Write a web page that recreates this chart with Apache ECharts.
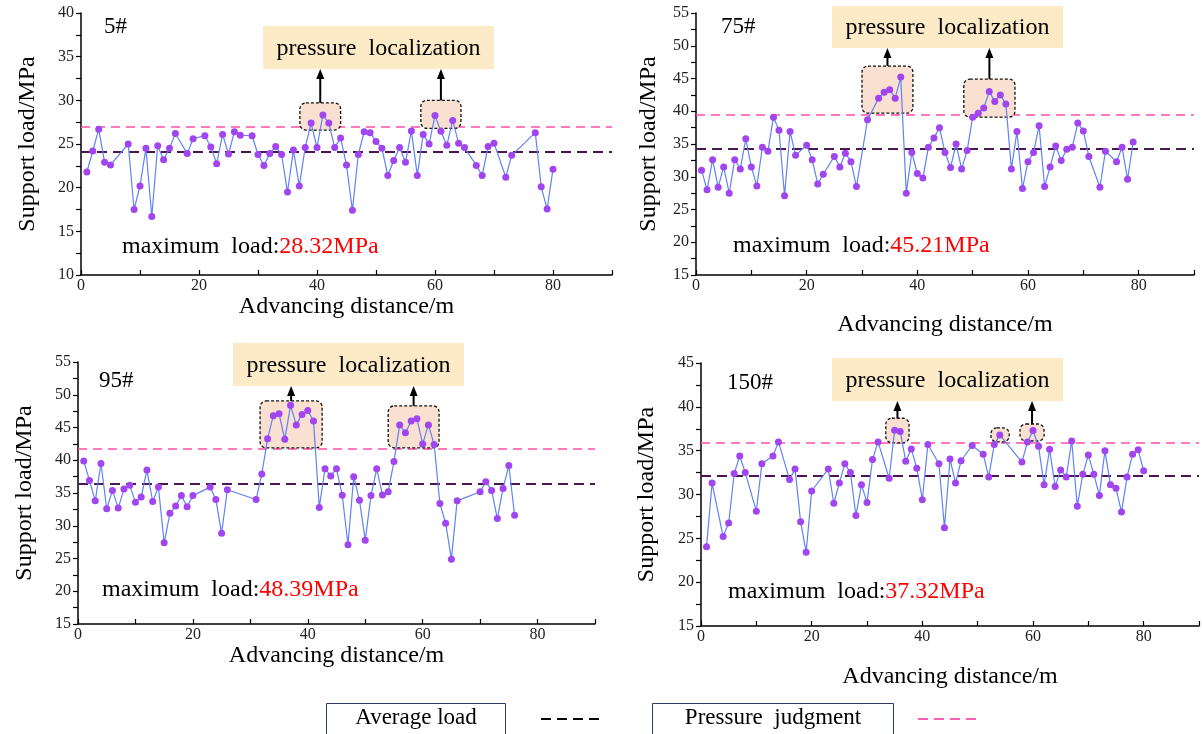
<!DOCTYPE html>
<html><head><meta charset="utf-8">
<script src="https://cdn.jsdelivr.net/npm/echarts@6/dist/echarts.min.js"></script>
<style>html,body{margin:0;padding:0;background:#fff}#c{width:1202px;height:734px}</style>
</head><body><div id="c"></div>
<script>
// ---------- data ----------
const panelNames = ['5#', '75#', '95#', '150#'];
const maxLoadText = ['28.32MPa', '45.21MPa', '48.39MPa', '37.32MPa'];
const yMin = [10, 15, 15, 15];
const yMax = [40, 55, 55, 45];
const avgLoad = [24.08, 34.24, 36.37, 32.1];
const judgeLoad = [26.95, 39.43, 41.8, 35.9];

const dist5 = [1,2,3,4,5,8,9,10,11,12,13,14,15,16,18,19,21,22,23,24,25,26,27,29,30,31,32,33,34,35,36,37,38,39,40,41,42,43,44,45,46,47,48,49,50,51,52,53,54,55,56,57,58,59,60,61,62,63,64,65,67,68,69,70,72,73,77,78,79,80];
const load5 = [21.8,24.2,26.7,22.9,22.6,25.0,17.5,20.2,24.5,16.7,24.8,23.2,24.5,26.2,23.9,25.6,25.95,24.65,22.75,26.1,23.85,26.4,26.0,25.95,23.8,22.55,23.9,24.7,23.8,19.5,24.3,20.2,24.6,27.4,24.6,28.32,27.4,24.6,25.7,22.6,17.4,23.8,26.4,26.3,25.3,24.5,21.4,23.1,24.6,22.9,26.5,21.4,26.1,25.0,28.25,26.45,24.85,27.7,25.1,24.6,22.55,21.4,24.7,25.1,21.2,23.7,26.3,20.1,17.55,22.1];

const dist75 = [1,2,3,4,5,6,7,8,9,10,11,12,13,14,15,16,17,18,20,21,22,23,25,26,27,28,29,31,33,34,35,36,37,38,39,40,41,42,43,44,45,46,47,48,49,50,51,52,53,54,55,56,57,58,59,60,61,62,63,64,65,66,67,68,69,70,71,73,74,76,77,78,79];
const load75 = [31.0,28.0,32.6,28.4,31.5,27.5,32.6,31.2,35.8,31.5,28.6,34.5,33.9,39.1,37.1,27.1,36.9,33.3,34.8,32.6,28.9,30.4,33.1,31.5,33.6,32.3,28.5,38.7,42.0,42.9,43.3,42.0,45.21,27.5,33.7,30.5,29.8,34.5,35.9,37.5,33.7,31.4,35.0,31.2,34.0,39.1,39.7,40.5,43.0,41.5,42.5,41.1,31.2,36.9,28.2,32.3,33.7,37.8,28.5,31.5,34.7,32.5,34.2,34.5,38.2,37.0,33.1,28.4,33.9,32.3,34.5,29.6,35.3];

const dist95 = [1,2,3,4,5,6,7,8,9,10,11,12,13,14,15,16,17,18,19,20,23,24,25,26,31,32,33,34,35,36,37,38,39,40,41,42,43,44,45,46,47,48,49,50,51,52,53,54,55,56,57,58,59,60,61,62,63,64,65,66,70,71,72,73,74,75,76];
const load95 = [39.9,36.9,33.8,39.5,32.6,35.4,32.7,35.6,36.2,33.6,34.4,38.5,33.7,35.9,27.4,31.9,33.0,34.6,32.9,34.6,35.9,34.0,28.85,35.5,34.0,37.9,43.3,46.8,47.1,43.2,48.39,45.4,47.0,47.6,46.0,32.8,38.7,37.6,38.7,34.65,27.1,37.5,33.9,27.8,34.6,38.7,34.7,35.2,39.8,45.4,44.2,46.0,46.35,42.5,45.4,42.4,33.4,30.4,24.9,33.8,35.2,36.7,35.4,31.1,35.7,39.2,31.6];

const dist150 = [1,2,4,5,6,7,8,10,11,13,14,16,17,18,19,20,23,24,25,26,27,28,29,30,31,32,34,35,36,37,38,39,40,41,43,44,45,46,47,49,51,52,53,54,58,59,60,61,62,63,64,65,66,67,68,69,70,71,72,73,74,75,76,77,78,79,80];
const load150 = [24.05,31.3,25.2,26.75,32.4,34.4,32.5,28.1,33.5,34.4,36.0,31.7,32.9,26.9,23.4,30.4,32.9,29.0,31.3,33.5,32.5,27.6,31.1,29.1,34.0,36.0,31.85,37.32,37.2,33.8,35.2,33.0,29.4,35.7,33.5,26.2,34.05,31.3,33.85,35.6,34.6,32.0,35.7,36.8,33.7,36.0,37.3,35.5,31.1,35.15,30.9,32.8,32.0,36.1,28.65,32.3,34.5,32.3,29.9,35.0,31.1,30.7,28.0,32.0,34.6,35.1,32.7];

// highlighted "pressure localization" zones, in data units: [x0, x1, y0, y1, hasArrow]
const zones5 = [[37.1, 44.0, 26.6, 29.7, 1], [57.6, 64.4, 26.8, 30.0, 1]];
const zones75 = [[30.0, 39.2, 39.7, 46.9, 1], [48.4, 57.65, 39.1, 44.9, 1]];
const zones95 = [[31.7, 42.5, 41.9, 49.05, 1], [54.0, 62.85, 41.9, 48.3, 1]];
const zones150 = [[33.4, 37.6, 35.9, 38.7, 1], [52.4, 55.7, 36.0, 37.6, 0], [57.65, 62.0, 36.1, 38.04, 1]];

// ---------- layout ----------
const FONT = '"Liberation Serif","Times New Roman",serif';
const dists = [dist5, dist75, dist95, dist150];
const loads = [load5, load75, load95, load150];
const zones = [zones5, zones75, zones95, zones150];
const grids = [
  {left: 81, top: 13, width: 531, height: 262},
  {left: 696, top: 13, width: 498, height: 262},
  {left: 78, top: 362, width: 517, height: 262},
  {left: 701, top: 363, width: 498, height: 263}
];
const xNameGap = [11, 38, 12, 39];
const yNameGap = [41, 35, 41, 42];
const labelBoxes = [[263, 26, 231, 43], [832, 6, 231, 42], [233, 343, 231, 43], [832, 358, 231, 43]];
const idPos = [[104, 27], [721, 27], [99, 381], [727, 383]];
const maxPos = [[122, 247], [733, 246], [102, 590], [728, 592]];

const chart = echarts.init(document.getElementById('c'));
const series = [];
grids.forEach((g, i) => {
  const pts = dists[i].map((d, j) => [d, loads[i][j]]);
  series.push({
    type: 'line', xAxisIndex: i, yAxisIndex: i, data: pts, symbol: 'none', silent: true,
    lineStyle: {opacity: 0}, z: 1,
    markLine: {
      silent: true, symbol: 'none', z: 1, label: {show: false},
      data: [
        {yAxis: avgLoad[i], lineStyle: {color: '#4a1752', type: [10, 6], width: 2}},
        {yAxis: judgeLoad[i], lineStyle: {color: '#ff4fa6', type: [9, 6], width: 1.6}}
      ]
    }
  });
  series.push({
    type: 'line', xAxisIndex: i, yAxisIndex: i, data: pts, z: 3,
    symbol: 'circle', symbolSize: 7, showAllSymbol: true,
    itemStyle: {color: '#a045f0'},
    lineStyle: {color: '#5f82f6', width: 1.2}
  });
});

const option = {
  animation: false,
  backgroundColor: '#fff',
  grid: grids,
  xAxis: grids.map((g, i) => ({
    gridIndex: i, type: 'value', min: 0, max: 90, interval: 10,
    axisLine: {show: true, onZero: false, lineStyle: {color: '#000', width: 1.5}},
    axisTick: {show: true, inside: true, length: 5, lineStyle: {color: '#000', width: 1.2}},
    axisLabel: {margin: 3, fontFamily: FONT, fontSize: 16, color: '#222',
      formatter: v => (v % 20 === 0 ? String(v) : '')},
    splitLine: {show: false},
    name: 'Advancing distance/m', nameLocation: 'middle', nameGap: xNameGap[i],
    nameTextStyle: {fontFamily: FONT, fontSize: 24, color: '#000'}
  })),
  yAxis: grids.map((g, i) => ({
    gridIndex: i, type: 'value', min: yMin[i], max: yMax[i], interval: 2.5,
    axisLine: {show: true, lineStyle: {color: '#000', width: 1.5}},
    axisTick: {show: true, length: 5, lineStyle: {color: '#000', width: 1.2}},
    axisLabel: {margin: 7, fontFamily: FONT, fontSize: 16, color: '#222',
      formatter: v => (v % 5 === 0 ? String(v) : '')},
    splitLine: {show: false},
    name: 'Support load/MPa', nameLocation: 'middle', nameGap: yNameGap[i],
    nameTextStyle: {fontFamily: FONT, fontSize: 24, color: '#000'}
  })),
  series: series
};
chart.setOption(option);

// ---------- annotations ----------
const gfx = [];
grids.forEach((g, i) => {
  const lb = labelBoxes[i];
  gfx.push({type: 'rect', z: 10, shape: {x: lb[0], y: lb[1], width: lb[2], height: lb[3]},
    style: {fill: '#fdebc8', stroke: null}});
  gfx.push({type: 'text', z: 11, x: lb[0] + lb[2] / 2, y: lb[1] + lb[3] / 2 + 1,
    style: {text: 'pressure  localization', font: '24px ' + FONT, fill: '#000',
      textAlign: 'center', textVerticalAlign: 'middle'}});
  gfx.push({type: 'text', z: 11, x: idPos[i][0], y: idPos[i][1],
    style: {text: panelNames[i], font: '23px ' + FONT, fill: '#000', textVerticalAlign: 'middle'}});
  gfx.push({type: 'text', z: 11, x: maxPos[i][0], y: maxPos[i][1],
    style: {text: '{a|maximum  load:}{b|' + maxLoadText[i] + '}', textVerticalAlign: 'middle',
      rich: {a: {font: '24px ' + FONT, fill: '#000'}, b: {font: '24px ' + FONT, fill: '#ff0000'}}}});
  zones[i].forEach(z => {
    const p0 = chart.convertToPixel({gridIndex: i}, [z[0], z[3]]);
    const p1 = chart.convertToPixel({gridIndex: i}, [z[1], z[2]]);
    gfx.push({type: 'rect', z: 2, shape: {x: p0[0], y: p0[1], width: p1[0] - p0[0], height: p1[1] - p0[1], r: 6},
      style: {fill: '#f9e0d0', stroke: '#111', lineWidth: 1.3, lineDash: [3, 2]}});
    if (z[4]) {
      const cx = (p0[0] + p1[0]) / 2;
      const yEnd = lb[1] + lb[3];
      gfx.push({type: 'line', z: 10, shape: {x1: cx, y1: p0[1], x2: cx, y2: yEnd + 8},
        style: {stroke: '#000', lineWidth: 2}});
      gfx.push({type: 'polygon', z: 10, shape: {points: [[cx - 4, yEnd + 10], [cx + 4, yEnd + 10], [cx, yEnd]]},
        style: {fill: '#000'}});
    }
  });
});
// legend
gfx.push({type: 'rect', z: 10, shape: {x: 326.5, y: 703.5, width: 179, height: 40}, style: {fill: '#fff', stroke: '#2c3b66', lineWidth: 1}});
gfx.push({type: 'text', z: 11, x: 416, y: 718, style: {text: 'Average load', font: '23px ' + FONT, fill: '#000', textAlign: 'center', textVerticalAlign: 'middle'}});
gfx.push({type: 'line', z: 10, shape: {x1: 541, y1: 719, x2: 601, y2: 719}, style: {stroke: '#000', lineWidth: 2.2, lineDash: [10, 6]}});
gfx.push({type: 'rect', z: 10, shape: {x: 652.5, y: 703.5, width: 241, height: 40}, style: {fill: '#fff', stroke: '#2c3b66', lineWidth: 1}});
gfx.push({type: 'text', z: 11, x: 773, y: 718, style: {text: 'Pressure  judgment', font: '23px ' + FONT, fill: '#000', textAlign: 'center', textVerticalAlign: 'middle'}});
gfx.push({type: 'line', z: 10, shape: {x1: 918, y1: 719, x2: 978, y2: 719}, style: {stroke: '#ff5cb2', lineWidth: 2, lineDash: [10, 6]}});

chart.setOption({graphic: gfx});
</script>
</body></html>
